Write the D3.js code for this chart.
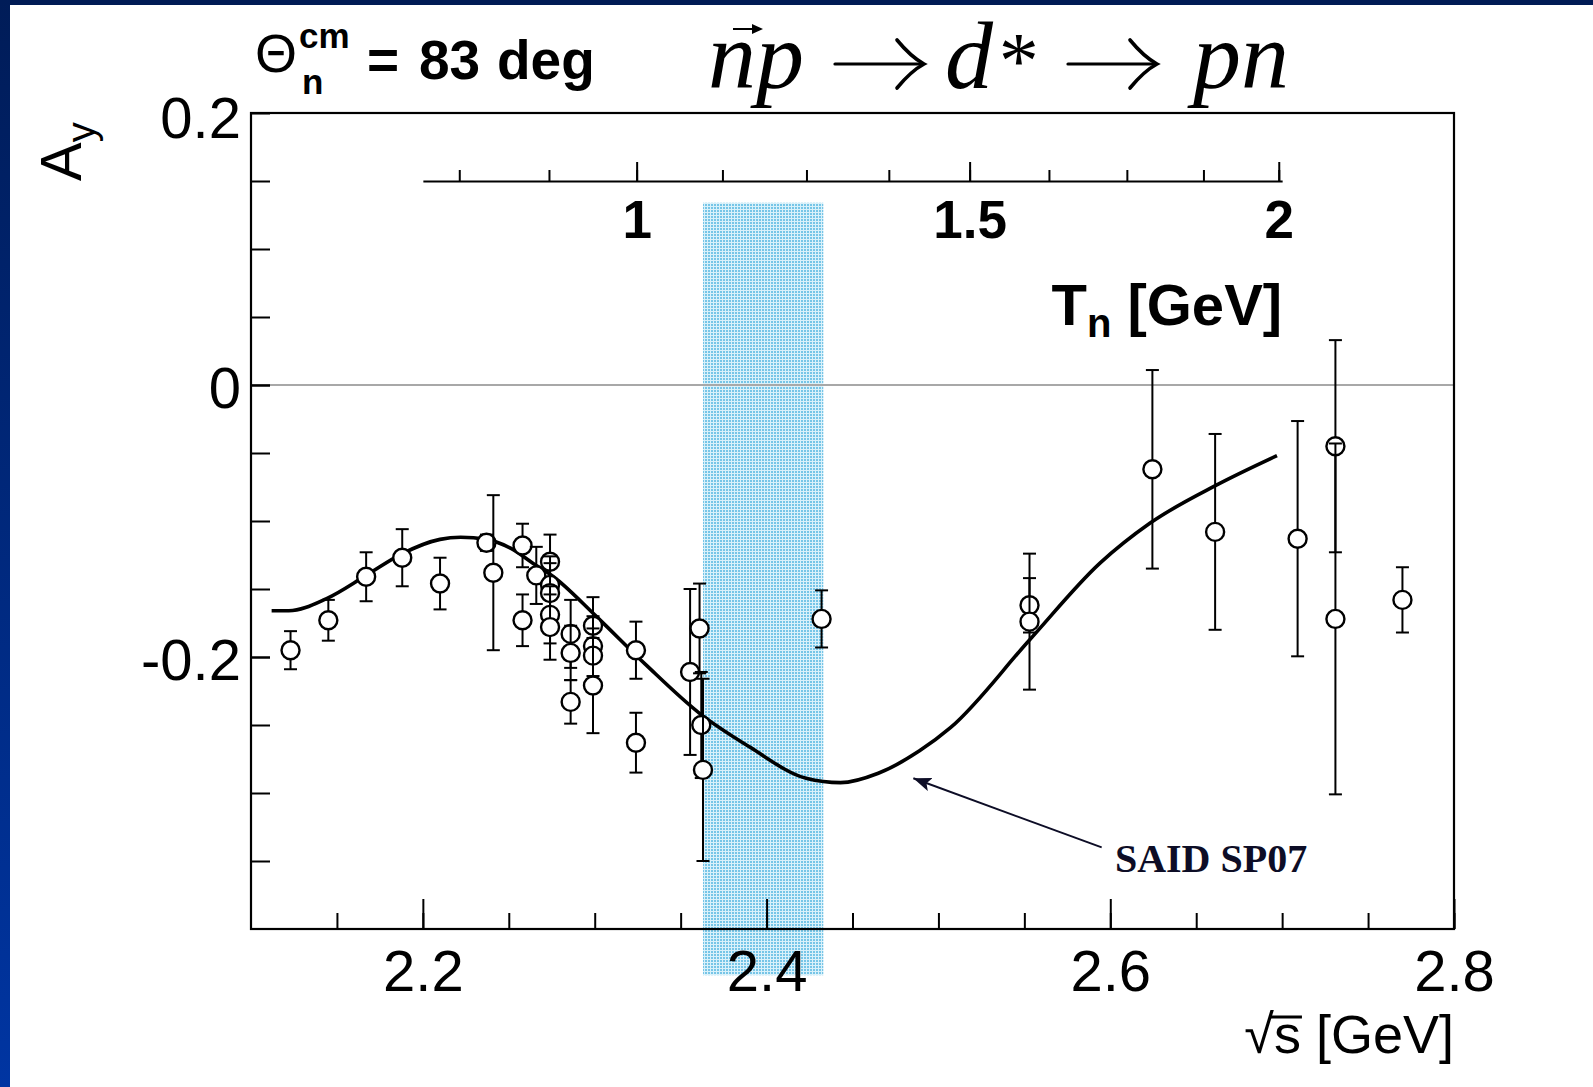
<!DOCTYPE html>
<html><head><meta charset="utf-8">
<script src="https://cdn.jsdelivr.net/npm/d3@7"></script>
<style>html,body{margin:0;padding:0;background:#fff;overflow:hidden}</style>
</head><body>
<svg id="chart" width="1593" height="1087"></svg>
<script>
// ---- data ----
const sqrtS = [2.123,2.145,2.167,2.188,2.210,2.237,2.241,2.258,2.258,2.266,2.274,2.274,2.274,2.274,2.274,
               2.286,2.286,2.286,2.299,2.299,2.299,2.299,2.324,2.324,2.3555,2.361,2.362,2.363,2.432,
               2.553,2.553,2.6245,2.661,2.709,2.731,2.731,2.770];
const ayVals = [-0.195,-0.173,-0.141,-0.127,-0.146,-0.116,-0.138,-0.118,-0.173,-0.140,-0.130,-0.147,-0.153,-0.169,-0.178,
               -0.183,-0.197,-0.233,-0.177,-0.192,-0.199,-0.221,-0.195,-0.263,-0.211,-0.179,-0.250,-0.283,-0.172,
               -0.162,-0.174,-0.062,-0.108,-0.113,-0.045,-0.172,-0.158];
const ayErr  = [0.014,0.015,0.018,0.021,0.019,0.006,0.057,0.016,0.019,0.021,0.020,0.021,0.022,0.021,0.024,
               0.025,0.020,0.016,0.021,0.022,0.020,0.035,0.021,0.022,0.061,0.033,0.039,0.067,0.021,
               0.020,0.050,0.073,0.072,0.0865,0.078,0.129,0.024];
const saidS  = [2.112,2.122,2.144,2.167,2.188,2.210,2.222,2.237,2.251,2.264,2.276,2.300,2.330,2.361,2.390,
               2.423,2.443,2.465,2.489,2.507,2.553,2.594,2.623,2.662,2.697];
const saidAy = [-0.166,-0.166,-0.157,-0.140,-0.124,-0.1135,-0.112,-0.1135,-0.120,-0.131,-0.141,-0.169,-0.206,-0.2414,-0.266,
               -0.2892,-0.2924,-0.2855,-0.2690,-0.252,-0.1875,-0.131,-0.1017,-0.0735,-0.052];
const xMinorTicks = [2.15,2.2,2.25,2.3,2.35,2.4,2.45,2.5,2.55,2.6,2.65,2.7,2.75,2.8];
const xMajorTicks = [2.2,2.4,2.6,2.8];
const xTickLabels = ["2.2","2.4","2.6","2.8"];
const yMinorTicks = [0.15,0.1,0.05,0,-0.05,-0.1,-0.15,-0.2,-0.25,-0.3,-0.35];
const yMajorTicks = [0.2,0,-0.2];
const yTickLabels = ["0.2","0","-0.2"];
const tnTicks = [0.75,0.875,1,1.125,1.25,1.375,1.5,1.625,1.75,1.875,2];
const tnMajor = [1,1.5,2];
const tnLabels = ["1","1.5","2"];
const dStarBand = [2.363, 2.433];

// ---- scales ----
const svg = d3.select("#chart");
const x = d3.scaleLinear().domain([2.1, 2.8]).range([251, 1454]);
const y = d3.scaleLinear().domain([-0.4, 0.2]).range([929, 113]);
const mn = 0.93957, mp = 0.93827;
const toSqrtS = T => Math.sqrt((mn + mp) ** 2 + 2 * mp * T);
const SANS = "'Liberation Sans', Arial, Helvetica, sans-serif";
const SERIF = "'Liberation Serif', 'Times New Roman', serif";

// ---- background borders ----
const defs = svg.append("defs");
const lg = defs.append("linearGradient").attr("id","lgrad").attr("x1",0).attr("y1",0).attr("x2",0).attr("y2",1);
lg.append("stop").attr("offset","0%").attr("stop-color","#001c58");
lg.append("stop").attr("offset","100%").attr("stop-color","#0035a2");
svg.append("rect").attr("x",0).attr("y",0).attr("width",1593).attr("height",1087).attr("fill","#fff");
svg.append("rect").attr("x",0).attr("y",0).attr("width",1593).attr("height",5).attr("fill","#001b55");
svg.append("rect").attr("x",0).attr("y",0).attr("width",10).attr("height",1087).attr("fill","url(#lgrad)");

// band pattern
const pat = defs.append("pattern").attr("id","dots").attr("width",3).attr("height",3).attr("patternUnits","userSpaceOnUse");
pat.append("rect").attr("width",3).attr("height",3).attr("fill","#d9f1fa");
pat.append("rect").attr("x",0).attr("y",0).attr("width",2).attr("height",2).attr("fill","#76c5e7");

// arrow marker
defs.append("marker").attr("id","ahead").attr("markerUnits","userSpaceOnUse")
  .attr("markerWidth",20).attr("markerHeight",16).attr("refX",18).attr("refY",7).attr("orient","auto")
  .append("path").attr("d","M0,0 L18,7 L0,14 L4,7 Z").attr("fill","#0d0d26");

// ---- d* band (behind axes and labels) ----
svg.append("rect").attr("x",x(dStarBand[0])).attr("width",x(dStarBand[1])-x(dStarBand[0]))
  .attr("y",y(0.134)).attr("height",y(-0.434)-y(0.134)).attr("fill","url(#dots)");

// zero line
svg.append("line").attr("x1",x(2.1)).attr("x2",x(2.8)).attr("y1",y(0)).attr("y2",y(0))
  .attr("stroke","#a8a8a8").attr("stroke-width",1.8);

// ---- bottom axis ----
const gxMinor = svg.append("g").attr("transform",`translate(0,${y(-0.4)})`)
  .call(d3.axisBottom(x).tickValues(xMinorTicks).tickSize(-16).tickSizeOuter(0).tickFormat(""));
gxMinor.select(".domain").remove();
const gxMajor = svg.append("g").attr("transform",`translate(0,${y(-0.4)})`)
  .call(d3.axisBottom(x).tickValues(xMajorTicks).tickSize(-30).tickSizeOuter(0).tickPadding(21)
    .tickFormat((d,i)=>xTickLabels[i]));
gxMajor.select(".domain").remove();
gxMajor.selectAll("text").attr("font-family",SANS).attr("font-size",58).attr("fill","#000");

// ---- left axis ----
const gyMinor = svg.append("g").attr("transform",`translate(${x(2.1)},0)`)
  .call(d3.axisLeft(y).tickValues(yMinorTicks).tickSize(-19).tickSizeOuter(0).tickFormat(""));
gyMinor.select(".domain").remove();
const gyMajor = svg.append("g").attr("transform",`translate(${x(2.1)},0)`)
  .call(d3.axisLeft(y).tickValues(yMajorTicks).tickSize(-19).tickSizeOuter(0).tickPadding(10)
    .tickFormat((d,i)=>yTickLabels[i]));
gyMajor.select(".domain").remove();
gyMajor.selectAll("text").attr("font-family",SANS).attr("font-size",58).attr("fill","#000")
  .attr("dy", d => d === 0.2 ? "0.42em" : "0.38em");

// frame
svg.append("rect").attr("x",x(2.1)).attr("y",y(0.2)).attr("width",x(2.8)-x(2.1)).attr("height",y(-0.4)-y(0.2))
  .attr("fill","none").attr("stroke","#000").attr("stroke-width",2.2);

// ---- top Tn axis ----
const xTop = d3.scaleLinear().domain([2.2, 2.7]).range([x(2.2), x(2.7)]);
const gt1 = svg.append("g").attr("transform",`translate(0,${y(0.15)})`)
  .call(d3.axisBottom(xTop).tickValues(tnTicks.map(toSqrtS)).tickSize(-11).tickSizeOuter(0).tickFormat(""));
gt1.select(".domain").attr("stroke","#000").attr("stroke-width",2);
const gt2 = svg.append("g").attr("transform",`translate(0,${y(0.15)})`)
  .call(d3.axisBottom(xTop).tickValues(tnMajor.map(toSqrtS)).tickSize(-19).tickSizeOuter(0).tickPadding(19)
    .tickFormat((d,i)=>tnLabels[i]));
gt2.select(".domain").remove();
gt2.selectAll("text").attr("font-family",SANS).attr("font-weight","bold").attr("font-size",53).attr("fill","#000");
svg.selectAll(".tick line").attr("stroke","#000").attr("stroke-width",2);

// Tn title
const tnT = svg.append("text").attr("x",x(2.7)).attr("y",325).attr("text-anchor","end")
  .attr("font-family",SANS).attr("font-weight","bold").attr("font-size",58).attr("fill","#000");
tnT.append("tspan").text("T");
tnT.append("tspan").attr("font-size",40).attr("dy",12).text("n");
tnT.append("tspan").attr("dy",-12).text(" [GeV]");

// ---- SAID curve ----
const line = d3.line().x((d,i)=>x(saidS[i])).y((d,i)=>y(saidAy[i])).curve(d3.curveMonotoneX);
svg.append("path").attr("d", line(saidS)).attr("fill","none").attr("stroke","#000").attr("stroke-width",3.6)
  .attr("stroke-linejoin","round");

// ---- data points ----
const pts = sqrtS.map((s,i)=>({s, a: ayVals[i], e: ayErr[i]}));
const gp = svg.append("g");
const pg = gp.selectAll("g.pt").data(pts).join("g").attr("class","pt");
pg.append("line").attr("x1",d=>x(d.s)).attr("x2",d=>x(d.s)).attr("y1",d=>y(d.a+d.e)).attr("y2",d=>y(d.a-d.e))
  .attr("stroke","#000").attr("stroke-width",2);
pg.append("line").attr("x1",d=>x(d.s)-6.5).attr("x2",d=>x(d.s)+6.5).attr("y1",d=>y(d.a+d.e)).attr("y2",d=>y(d.a+d.e))
  .attr("stroke","#000").attr("stroke-width",2);
pg.append("line").attr("x1",d=>x(d.s)-6.5).attr("x2",d=>x(d.s)+6.5).attr("y1",d=>y(d.a-d.e)).attr("y2",d=>y(d.a-d.e))
  .attr("stroke","#000").attr("stroke-width",2);
pg.append("circle").attr("cx",d=>x(d.s)).attr("cy",d=>y(d.a)).attr("r",9)
  .attr("fill","#fff").attr("stroke","#000").attr("stroke-width",2.4);

// ---- annotation ----
svg.append("line").attr("x1",x(2.595)).attr("y1",y(-0.340)).attr("x2",x(2.4854)).attr("y2",y(-0.2892))
  .attr("stroke","#0d0d26").attr("stroke-width",2).attr("marker-end","url(#ahead)");
svg.append("text").attr("x",x(2.6027)).attr("y",y(-0.3578)).attr("font-family",SERIF).attr("font-weight","bold")
  .attr("font-size",40).attr("fill","#0d0d26").text("SAID SP07");

// ---- axis titles ----
const xt = svg.append("text").attr("x",x(2.8)).attr("y",1053).attr("text-anchor","end")
  .attr("font-family",SANS).attr("font-size",54).attr("fill","#000").text("√s [GeV]");
{
  const n0 = xt.node();
  const r = n0.getExtentOfChar(0), sExt = n0.getExtentOfChar(1);
  svg.append("line").attr("x1", r.x + r.width - 3).attr("x2", sExt.x + sExt.width + 1)
    .attr("y1", r.y + 0.2 * r.height + 1).attr("y2", r.y + 0.2 * r.height + 1)
    .attr("stroke","#000").attr("stroke-width",3);
}

const yt = svg.append("text").attr("transform","translate(81,181) rotate(-90)")
  .attr("font-family",SANS).attr("font-size",58).attr("fill","#000");
yt.append("tspan").text("A");
yt.append("tspan").attr("font-size",40).attr("dy",14).text("y");

// ---- angle label ----
svg.append("text").attr("x",255).attr("y",72).attr("font-family",SANS).attr("font-size",54).attr("fill","#000").text("Θ");
svg.append("text").attr("x",299).attr("y",48).attr("font-family",SANS).attr("font-weight","bold").attr("font-size",35).attr("fill","#000").text("cm");
svg.append("text").attr("x",302).attr("y",94).attr("font-family",SANS).attr("font-weight","bold").attr("font-size",35).attr("fill","#000").text("n");
const ang = svg.append("text").attr("y",79).attr("font-family",SANS).attr("font-weight","bold").attr("font-size",55).attr("fill","#000");
ang.append("tspan").attr("x",367).text("=");
ang.append("tspan").attr("x",419).text("83");
ang.append("tspan").attr("x",497).text("deg");

// ---- reaction formula ----
const fy = 88;
const fAttrs = s => s.attr("font-family",SERIF).attr("font-style","italic").attr("font-size",96).attr("fill","#000").attr("y",fy);
fAttrs(svg.append("text").attr("x",708).text("np"));
const arrowGlyph = (ax) => {
  const g = svg.append("g").attr("fill","none").attr("stroke","#000").attr("stroke-linecap","round");
  g.append("line").attr("x1",ax).attr("x2",ax+87).attr("y1",64).attr("y2",64).attr("stroke-width",3.2);
  g.append("path").attr("d",`M${ax+62},40 Q${ax+76},57 ${ax+89},64 Q${ax+76},71 ${ax+62},88`).attr("stroke-width",3.6);
};
arrowGlyph(835);
const dstar = fAttrs(svg.append("text").attr("x",945));
dstar.append("tspan").text("d");
dstar.append("tspan").attr("font-size",80).attr("dx",2).text("*");
arrowGlyph(1068);
fAttrs(svg.append("text").attr("x",1193).text("pn"));
// vector arrow over n
svg.append("line").attr("x1",733).attr("y1",29).attr("x2",761).attr("y2",29).attr("stroke","#000").attr("stroke-width",2);
svg.append("path").attr("d","M752,24 L763,29 L752,34 Z").attr("fill","#000");
</script>
</body></html>
